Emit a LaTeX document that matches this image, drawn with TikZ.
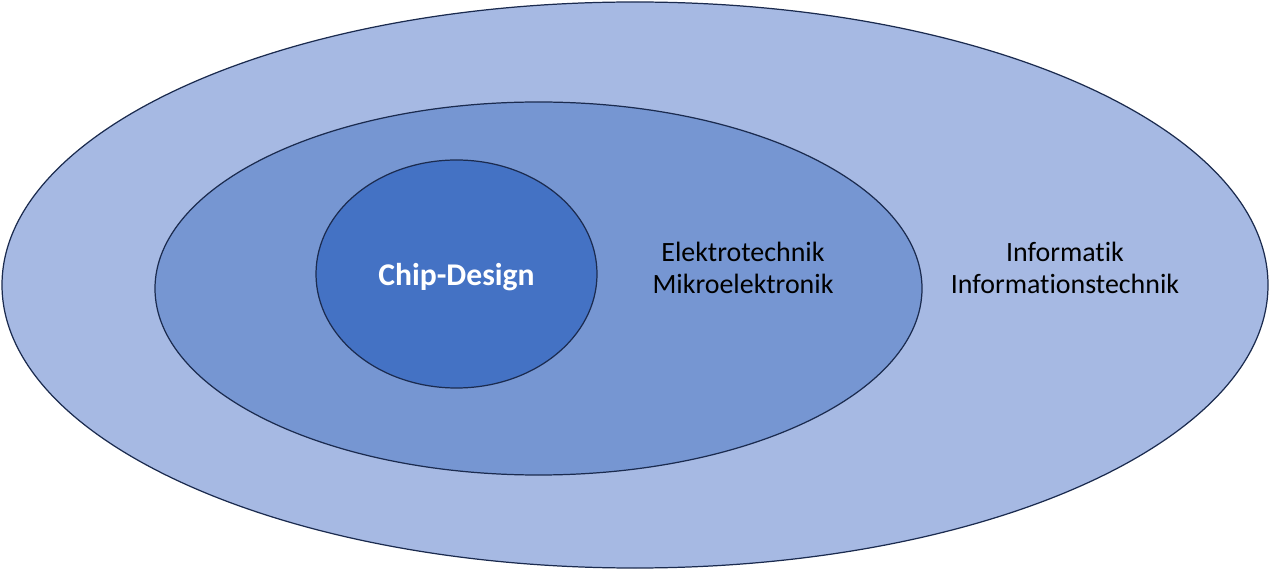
\documentclass[tikz,border=0pt]{standalone}
\usepackage{fontspec}
\setmainfont{Carlito}[Ligatures=NoCommon]
\usetikzlibrary{shapes.geometric}
\definecolor{outerblue}{HTML}{A6B9E3}
\definecolor{midblue}{HTML}{7696D2}
\definecolor{innerblue}{HTML}{4472C4}
\definecolor{rimblue}{HTML}{1B2B4F}
\begin{document}
\begin{tikzpicture}[x=0.02cm, y=-0.02cm]
        \useasboundingbox (0,0) rectangle (1270,570);
        % Define nested ellipses
        \foreach \n/\x/\y/\w/\h/\c in {outer/635/285/1266/566/outerblue,
                                       middle/538.5/288.5/767/373/midblue,
                                       inner/456.5/274/281/228/innerblue} {
            \node[ellipse, draw=rimblue, line width=0.7pt, fill=\c, inner sep=0pt, outer sep=0pt,
                  minimum width=\w*0.02cm, minimum height=\h*0.02cm] (\n) at (\x,\y) {};
        }
        % Labels
        \node[font=\fontsize{18}{22}\selectfont\bfseries, text=white] (chip) at (456.5,277) {Chip-Design};
        \node[font=\fontsize{15.9}{18}\selectfont, align=center] (etech) at (743,268) {Elektrotechnik\\Mikroelektronik};
        \node[font=\fontsize{15.9}{18}\selectfont, align=center] (info) at (1065,268) {Informatik\\Informationstechnik};
    \end{tikzpicture}
\end{document}
